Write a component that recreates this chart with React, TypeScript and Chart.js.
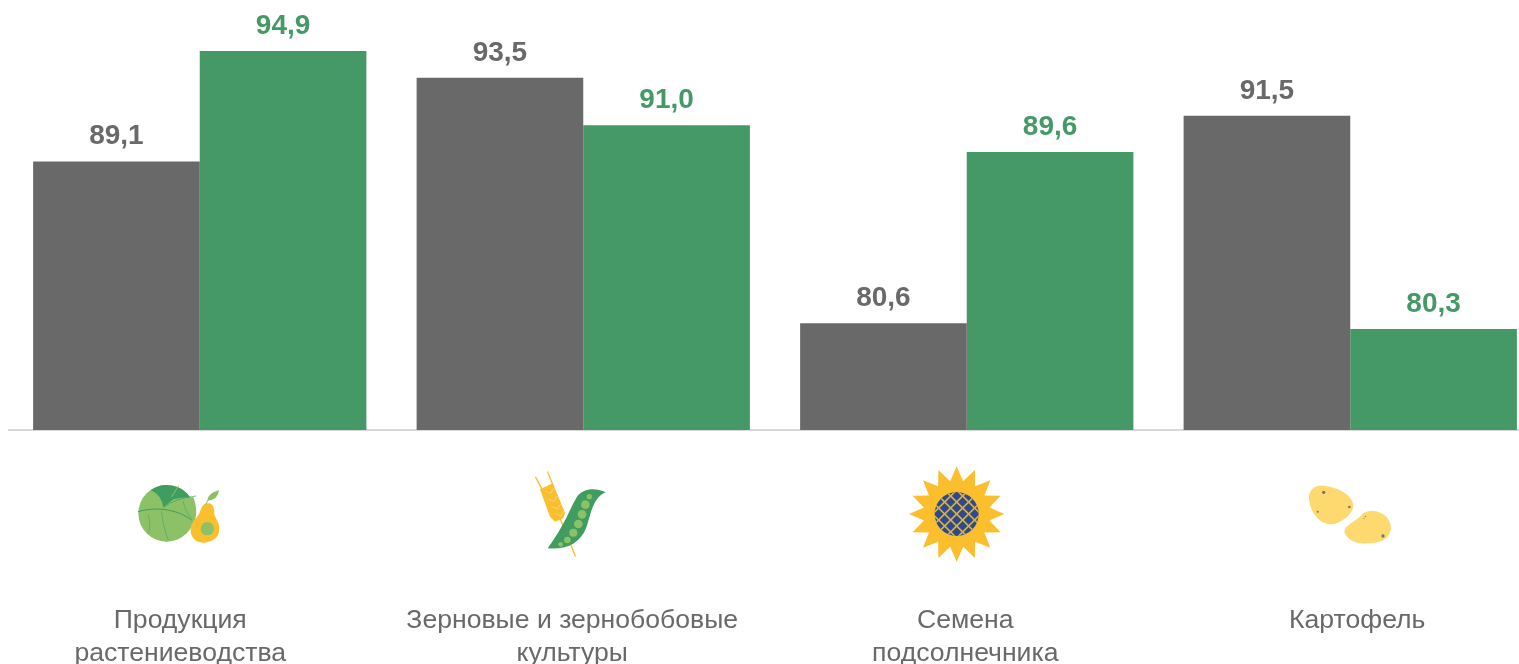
import React, { useEffect, useRef } from "react";
import { Chart, registerables } from "chart.js";

Chart.register(...registerables);

const categories = [
  ["Продукция", "растениеводства"],
  ["Зерновые и зернобобовые", "культуры"],
  ["Семена", "подсолнечника"],
  ["Картофель"],
];
const seriesGrey = [89.1, 93.5, 80.6, 91.5];
const seriesGreen = [94.9, 91.0, 89.6, 80.3];

const GREY = "#696969";
const GREEN = "#459966";
const FONT = '"Liberation Sans", Arial, sans-serif';
const LABEL_SHIFT = [-19.5, -11, -1.5, 7];
const LEAF = "#8CC168";
const LEAF_DARK = "#3F9E5F";
const YELLOW = "#FBBE2D";

type Ctx = CanvasRenderingContext2D;
const fillPath = (c: Ctx, d: string, col: string) => { c.fillStyle = col; c.fill(new Path2D(d)); };
const strokePath = (c: Ctx, d: string, col: string, w: number) => {
  c.strokeStyle = col; c.lineWidth = w; c.lineCap = "round"; c.lineJoin = "round"; c.stroke(new Path2D(d));
};
const disc = (c: Ctx, x: number, y: number, r: number, col: string) => {
  c.fillStyle = col; c.beginPath(); c.arc(x, y, r, 0, Math.PI * 2); c.fill();
};

function cabbage(c: Ctx) {
  disc(c, 140, 130, 85, LEAF);
  fillPath(c, "M92,60 A85,85 0 0 1 225,122 L218,88 Q175,82 130,112 Q125,75 92,60 Z", LEAF_DARK);
  fillPath(c, "M60,125 Q75,85 130,112 L160,88 Q190,80 220,82 Q235,120 225,150 L140,215 L90,195 Z", LEAF);
  strokePath(c, "M55,125 C100,110 170,115 215,150", LEAF_DARK, 3);
  strokePath(c, "M130,112 Q165,85 228,78", LEAF_DARK, 2);
  strokePath(c, "M155,80 Q165,65 175,48", LEAF, 3);
  strokePath(c, "M190,95 Q195,125 215,145", LEAF_DARK, 1.5);
  strokePath(c, "M125,125 Q130,175 145,210", LEAF_DARK, 1.5);
  strokePath(c, "M85,135 Q95,170 85,190", LEAF_DARK, 1.5);
  fillPath(c, "M265,100 C282,100 284,122 283,135 C290,150 298,160 298,178 C298,205 272,218 250,218 C225,218 210,200 212,175 C213,155 235,140 240,125 C245,110 250,100 265,100 Z", YELLOW);
  disc(c, 262, 176, 20, LEAF);
  strokePath(c, "M258,102 L264,90", LEAF_DARK, 2);
  fillPath(c, "M262,92 Q262,70 297,60 Q295,90 262,92 Z", LEAF);
}

function grainAndPea(c: Ctx) {
  strokePath(c, "M77,52 L100,95", YELLOW, 4);
  strokePath(c, "M113,36 L130,78", YELLOW, 4);
  strokePath(c, "M150,175 L196,288", YELLOW, 4);
  fillPath(c, "M90,88 L128,70 L165,158 L160,175 L135,185 L120,170 Z", YELLOW);
  for (const [x, y] of [[122, 100], [132, 124], [143, 147], [153, 168]]) {
    strokePath(c, `M${x - 16},${y - 6} L${x},${y} L${x + 8},${y - 14}`, "#FFE9BD", 1.5);
  }
  fillPath(c, "M287,97 C255,82 218,85 200,112 C180,145 165,195 113,265 C170,270 210,250 228,205 C243,168 245,115 287,97 Z", LEAF_DARK);
  for (const [x, y, r] of [[238, 110, 8], [226, 134, 13], [216, 163, 13], [205, 192, 13], [190, 218, 12], [172, 240, 10], [152, 253, 7]]) {
    disc(c, x, y, r, LEAF);
  }
}

function sunflower(c: Ctx) {
  const cx = 170, cy = 162, n = 16;
  c.fillStyle = YELLOW;
  c.beginPath();
  for (let i = 0; i < n * 2; i++) {
    const a = -Math.PI / 2 + (i * Math.PI) / n;
    const r = i % 2 === 0 ? 143 : 100;
    c.lineTo(cx + r * Math.cos(a), cy + r * Math.sin(a));
  }
  c.closePath();
  c.fill();
  c.save();
  c.beginPath();
  c.arc(cx, cy, 66, 0, Math.PI * 2);
  c.clip();
  c.fillStyle = "#2D4A8C";
  c.fillRect(cx - 70, cy - 70, 140, 140);
  c.strokeStyle = "#E0B23C";
  c.lineWidth = 5;
  for (let k = -4; k <= 4; k++) {
    for (const s of [1, -1]) {
      const o = k * 36;
      c.beginPath();
      c.moveTo(cx - 90 + o, cy - 90 * s);
      c.lineTo(cx + 90 + o, cy + 90 * s);
      c.stroke();
    }
  }
  c.restore();
}

function potatoes(c: Ctx) {
  const P = "#FDD96F";
  fillPath(c, "M42,70 C40,40 65,28 90,32 C130,38 172,60 175,90 C176,120 130,150 105,148 C70,145 45,110 42,70 Z", P);
  fillPath(c, "M148,170 C150,148 182,142 205,115 C225,100 260,108 278,130 C295,155 290,185 260,198 C225,210 160,212 148,170 Z", P);
  for (const [x, y, r] of [[86, 52, 5], [163, 96, 4], [68, 110, 3], [264, 183, 5], [211, 124, 2], [207, 130, 1.5]]) {
    disc(c, x, y, r, "#7A7668");
  }
}

const icons: [number, number, (c: Ctx) => void][] = [
  [120, 470, cabbage],
  [510, 460, grainAndPea],
  [900, 460, sunflower],
  [1295, 475, potatoes],
];

const overlay = {
  id: "overlay",
  afterDraw(chart: any) {
    const c: Ctx = chart.ctx;
    const xs = chart.scales.x;
    c.save();
    c.textAlign = "center";
    c.textBaseline = "alphabetic";
    c.font = `bold 28px ${FONT}`;
    chart.data.datasets.forEach((ds: any, i: number) => {
      c.fillStyle = ds.backgroundColor;
      chart.getDatasetMeta(i).data.forEach((bar: any, j: number) => {
        c.fillText(ds.data[j].toFixed(1).replace(".", ","), bar.x, bar.y - 17);
      });
    });
    c.font = `26.6px ${FONT}`;
    c.fillStyle = "#696969";
    categories.forEach((lines, j) => {
      const x = xs.getPixelForValue(j) + LABEL_SHIFT[j];
      lines.forEach((t, k) => c.fillText(t, x, 620 + k * 33));
    });
    for (const [ox, oy, draw] of icons) {
      c.save();
      c.translate(ox - 8, oy - 8);
      c.scale(1 / 3, 1 / 3);
      draw(c);
      c.restore();
    }
    c.restore();
  },
};

export default function App() {
  const ref = useRef<HTMLCanvasElement>(null);
  useEffect(() => {
    const prev = document.body.style.marginRight;
    document.body.style.marginRight = "0";
    const chart = new Chart(ref.current!, {
      type: "bar",
      data: {
        labels: categories.map((l) => l.join(" ")),
        datasets: [
          { data: seriesGrey, backgroundColor: GREY, borderWidth: 0 },
          { data: seriesGreen, backgroundColor: GREEN, borderWidth: 0 },
        ],
      },
      options: {
        responsive: false,
        animation: false,
        layout: { padding: { left: 0, right: 0, top: 0, bottom: 234 } },
        datasets: { bar: { categoryPercentage: 0.869, barPercentage: 1 } },
        plugins: { legend: { display: false }, tooltip: { enabled: false } },
        scales: {
          x: {
            grid: { display: false },
            ticks: { display: false },
            border: { color: "#D9D9D9", width: 2 },
            afterFit: (s: any) => { s.height = 0; },
          },
          y: { display: false, min: 75, max: 97.16 },
        },
      },
      plugins: [overlay],
    } as any);
    return () => { chart.destroy(); document.body.style.marginRight = prev; };
  }, []);
  return (
    <div style={{ width: 1511, height: 656, overflow: "hidden" }}>
      <canvas ref={ref} width={1534} height={656} style={{ display: "block" }} />
    </div>
  );
}
